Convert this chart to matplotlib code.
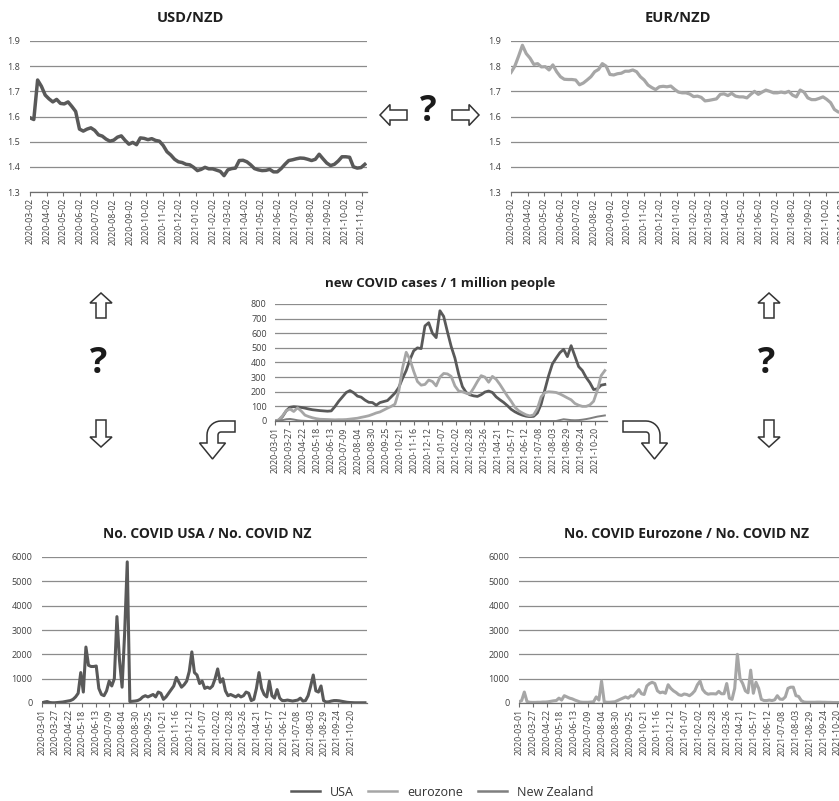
import numpy as np
import pandas as pd
import matplotlib
matplotlib.use("Agg")
import matplotlib.pyplot as plt
from matplotlib.lines import Line2D
from matplotlib.patches import Polygon

plt.rcParams["font.family"] = ["Open Sans", "DejaVu Sans"]

# ---- data ----
# exchange rates, weekly from 2020-03-02
fx_start = "2020-03-02"
usd_nzd = [1.595, 1.588, 1.745, 1.72, 1.685, 1.67, 1.658, 1.668, 1.652, 1.65,
           1.658, 1.64, 1.62, 1.55, 1.542, 1.55, 1.555, 1.545, 1.527, 1.522,
           1.51, 1.502, 1.506, 1.518, 1.523, 1.505, 1.49, 1.497, 1.488, 1.515,
           1.513, 1.508, 1.512, 1.505, 1.502, 1.485, 1.46, 1.447, 1.43, 1.42,
           1.417, 1.41, 1.408, 1.398, 1.385, 1.39, 1.398, 1.392, 1.392, 1.387,
           1.382, 1.365, 1.388, 1.393, 1.395, 1.425, 1.426, 1.42, 1.408, 1.393,
           1.388, 1.385, 1.386, 1.39, 1.38, 1.38, 1.393, 1.41, 1.425, 1.428,
           1.432, 1.435, 1.434, 1.43, 1.425, 1.43, 1.45, 1.432, 1.415, 1.405,
           1.41, 1.423, 1.44, 1.44, 1.438, 1.40, 1.395, 1.397, 1.41]
eur_nzd = [1.775, 1.80, 1.84, 1.883, 1.85, 1.832, 1.807, 1.81, 1.797, 1.798,
           1.785, 1.805, 1.778, 1.758, 1.748, 1.747, 1.747, 1.745, 1.726, 1.733,
           1.745, 1.758, 1.778, 1.787, 1.81, 1.80, 1.767, 1.765, 1.77, 1.772,
           1.78, 1.78, 1.785, 1.778, 1.758, 1.745, 1.725, 1.715, 1.707, 1.718,
           1.72, 1.718, 1.721, 1.708, 1.697, 1.694, 1.694, 1.689, 1.679, 1.681,
           1.676, 1.662, 1.664, 1.667, 1.67, 1.688, 1.69, 1.683, 1.692, 1.681,
           1.678, 1.678, 1.674, 1.688, 1.70, 1.688, 1.697, 1.705, 1.70, 1.694,
           1.694, 1.697, 1.694, 1.70, 1.685, 1.678, 1.705, 1.697, 1.674, 1.667,
           1.667, 1.672, 1.678, 1.668, 1.655, 1.628, 1.618, 1.615, 1.612]

# new cases per 1 million people, weekly from 2020-03-01
cases_start = "2020-03-01"
cases_usa = [0, 5, 30, 70, 94, 98, 96, 93, 88, 82,
             77, 74, 71, 69, 67, 69, 99, 135, 165, 195,
             208, 193, 170, 163, 143, 128, 126, 108, 126, 133,
             140, 165, 191, 228, 290, 345, 420, 480, 500, 495,
             650, 672, 600, 570, 754, 715, 610, 510, 430, 320,
             235, 195, 179, 172, 168, 180, 198, 205, 195, 165,
             145, 127, 105, 80, 63, 50, 40, 33, 30, 32,
             55, 115, 214, 310, 390, 430, 467, 490, 440, 515,
             444, 372, 345, 298, 262, 215, 220, 245, 250]
cases_eur = [0, 8, 35, 70, 82, 65, 90, 68, 40, 30,
             22, 16, 12, 11, 10, 9, 8, 9, 9, 10,
             13, 16, 19, 25, 30, 36, 45, 55, 62, 75,
             88, 100, 115, 200, 360, 470, 420, 340, 270, 245,
             250, 280, 270, 240, 300, 325, 322, 305, 240, 205,
             200, 190, 185, 225, 270, 310, 300, 265, 305, 285,
             250, 210, 170, 135, 95, 70, 55, 42, 35, 42,
             85, 165, 195, 200, 198, 195, 185, 172, 158, 145,
             120, 108, 100, 100, 110, 135, 210, 310, 345]
cases_nz = [0, 2, 6, 12, 14, 10, 5, 2, 1, 0,
            0, 0, 0, 0, 0, 0, 0, 0, 0, 0,
            0, 0, 0, 1, 1, 1, 0, 0, 0, 0,
            0, 0, 0, 0, 0, 0, 0, 0, 0, 0,
            0, 0, 0, 0, 0, 0, 0, 0, 0, 0,
            0, 0, 0, 0, 0, 0, 0, 0, 0, 0,
            0, 0, 0, 0, 0, 0, 0, 0, 0, 0,
            0, 0, 0, 0, 0, 0, 6, 12, 9, 6,
            5, 6, 9, 13, 18, 24, 30, 34, 38]

# case-count ratios, every 5 days from 2020-03-01
ratio_start = "2020-03-01"
ratio_usa_nz = [10, 40, 60, 20, 10, 10, 20, 30, 40, 60,
                80, 100, 150, 250, 400, 1250, 450, 2300, 1550, 1500,
                1500, 1520, 600, 350, 300, 500, 900, 700, 1000, 3550,
                1750, 650, 2900, 5800, 60, 70, 80, 100, 150, 250,
                300, 250, 300, 350, 250, 450, 400, 150, 250, 400,
                550, 700, 1050, 850, 650, 750, 900, 1300, 2100, 1250,
                1150, 800, 900, 600, 650, 600, 700, 1000, 1400, 850,
                1000, 500, 300, 350, 300, 250, 330, 250, 300, 450,
                400, 100, 150, 600, 1250, 600, 350, 250, 900, 300,
                200, 550, 200, 100, 100, 120, 100, 80, 100, 120,
                200, 80, 100, 300, 700, 1150, 500, 450, 700, 100,
                40, 50, 80, 100, 100, 90, 70, 50, 30, 20,
                15, 10, 10, 10, 10, 10]
ratio_eur_nz = [50, 100, 450, 60, 30, 25, 25, 30, 30, 40,
                40, 50, 70, 90, 100, 200, 120, 300, 250, 200,
                170, 120, 80, 40, 30, 30, 30, 40, 50, 250,
                120, 900, 50, 30, 30, 40, 50, 100, 150, 200,
                250, 200, 300, 280, 420, 550, 380, 350, 700, 800,
                850, 800, 500, 420, 450, 400, 750, 600, 500, 430,
                340, 310, 370, 350, 300, 380, 500, 750, 900, 550,
                420, 360, 380, 380, 370, 480, 380, 380, 800, 200,
                150, 600, 2000, 1000, 800, 500, 420, 1350, 400, 850,
                600, 150, 100, 100, 120, 100, 130, 300, 160, 150,
                250, 600, 650, 650, 300, 270, 100, 40, 30, 30,
                30, 30, 35, 35, 30, 30, 25, 25, 20, 20,
                20, 20, 20, 20, 20, 20]

series_names = ["USA", "eurozone", "New Zealand"]

# ---- styling ----
C_USA = "#595959"
C_EUR = "#a6a6a6"
C_NZ = "#7f7f7f"
GRID = "#8c8c8c"
TXT = "#404040"
TITLE = "#1f1f1f"

W, H = 839, 801
fig = plt.figure(figsize=(W / 100, H / 100), dpi=100)


def px_box(left, top, right, bottom):
    return [left / W, 1 - bottom / H, (right - left) / W, (bottom - top) / H]


def style(ax, ymax, ystep, ymin, ticks, xlim, fmt, ypad):
    yt = np.arange(ymin, ymax + ystep / 2, ystep)
    ax.set_ylim(ymin, ymax)
    ax.set_yticks(yt)
    ax.set_yticklabels([fmt.format(v) for v in yt])
    ax.grid(axis="y", color=GRID, lw=0.9)
    ax.set_axisbelow(True)
    for s in ["left", "right", "top"]:
        ax.spines[s].set_visible(False)
    ax.spines["bottom"].set_color("#6e6e6e")
    ax.spines["bottom"].set_linewidth(0.9)
    ax.set_xticks(ticks)
    ax.set_xticklabels([d.strftime("%Y-%m-%d") for d in ticks], rotation=90)
    ax.tick_params(axis="x", length=3, width=0.8, color="#6e6e6e", pad=1.5,
                   labelsize=6.3, labelcolor=TXT)
    ax.tick_params(axis="y", length=0, pad=ypad, labelsize=6.5, labelcolor=TXT)
    ax.set_xlim(pd.Timestamp(xlim[0]), pd.Timestamp(xlim[1]))
    ax.patch.set_alpha(0)


fx_dates = pd.date_range(fx_start, periods=len(usd_nzd), freq="7D")
fx_ticks = pd.date_range("2020-03-01", "2021-11-01", freq="MS") + pd.Timedelta(days=1)
case_dates = pd.date_range(cases_start, periods=len(cases_usa), freq="7D")
case_ticks = pd.date_range("2020-03-01", "2021-10-20", freq="26D")
ratio_dates = pd.date_range(ratio_start, periods=len(ratio_usa_nz), freq="5D")

# USD/NZD
ax1 = fig.add_axes(px_box(30, 41, 367, 192))
ax1.plot(fx_dates, usd_nzd, color=C_USA, lw=2.5, solid_joinstyle="round")
style(ax1, 1.9, 0.1, 1.3, fx_ticks, ("2020-03-02", "2021-11-12"), "{:.1f}", 7)
fig.text(190 / W, 1 - 18 / H, "USD/NZD", ha="center", va="center",
         fontsize=10.5, fontweight="bold", color=TITLE)

# EUR/NZD (runs past the right edge, as in the source)
ax2 = fig.add_axes(px_box(511, 41, 848, 192))
ax2.plot(fx_dates, eur_nzd, color=C_EUR, lw=2.3, solid_joinstyle="round")
style(ax2, 1.9, 0.1, 1.3, fx_ticks, ("2020-03-02", "2021-11-12"), "{:.1f}", 7)
fig.text(678 / W, 1 - 18 / H, "EUR/NZD", ha="center", va="center",
         fontsize=10.5, fontweight="bold", color=TITLE)

# new cases per million
ax3 = fig.add_axes(px_box(275, 304, 607, 421))
ax3.plot(case_dates, cases_usa, color=C_USA, lw=2.0, label=series_names[0])
ax3.plot(case_dates, cases_eur, color=C_EUR, lw=2.0, label=series_names[1])
ax3.plot(case_dates, cases_nz, color=C_NZ, lw=1.4, label=series_names[2])
style(ax3, 800, 100, 0, case_ticks, ("2020-03-01", "2021-11-11"), "{:.0f}", 6)
fig.text(440 / W, 1 - 283 / H, "new COVID cases / 1 million people", ha="center",
         va="center", fontsize=9.5, fontweight="bold", color=TITLE)

# ratios
ax4 = fig.add_axes(px_box(42, 557, 367, 703))
ax4.plot(ratio_dates, ratio_usa_nz, color=C_USA, lw=2.2, solid_joinstyle="round")
style(ax4, 6000, 1000, 0, case_ticks, ("2020-03-01", "2021-11-20"), "{:.0f}", 7)
fig.text(207 / W, 1 - 534 / H, "No. COVID USA / No. COVID NZ", ha="center",
         va="center", fontsize=10, fontweight="bold", color=TITLE)

ax5 = fig.add_axes(px_box(519, 557, 854, 703))
ax5.plot(ratio_dates, ratio_eur_nz, color=C_EUR, lw=2.2, solid_joinstyle="round")
style(ax5, 6000, 1000, 0, case_ticks, ("2020-03-01", "2021-11-20"), "{:.0f}", 7)
fig.text(687 / W, 1 - 534 / H, "No. COVID Eurozone / No. COVID NZ", ha="center",
         va="center", fontsize=10, fontweight="bold", color=TITLE)

# ---- arrows and question marks, drawn in pixel space ----
ov = fig.add_axes([0, 0, 1, 1], zorder=10)
ov.set_xlim(0, W)
ov.set_ylim(H, 0)
ov.axis("off")
ov.patch.set_alpha(0)


def block_arrow(tip, direction, length=26, shaft=10, head_w=21, head_len=10):
    u = np.array(direction, float)
    v = np.array([-u[1], u[0]])
    local = [(0, 0), (-head_len, head_w / 2), (-head_len, shaft / 2),
             (-length, shaft / 2), (-length, -shaft / 2),
             (-head_len, -shaft / 2), (-head_len, -head_w / 2)]
    pts = [np.array(tip) + a * u + b * v for a, b in local]
    ov.add_patch(Polygon(pts, closed=True, facecolor="white",
                         edgecolor="#333333", lw=1.1, joinstyle="miter"))


def bent_arrow(cx, cy, bar_len, d, R=14, r=3, y_head=443, y_tip=459, head_half=13):
    sc = (R + r) / 2
    pts = [(-bar_len, cy - R)]
    for a in np.linspace(0, np.pi / 2, 10):
        pts.append((R * np.sin(a), cy - R * np.cos(a)))
    pts += [(R, y_head), (sc + head_half, y_head), (sc, y_tip),
            (sc - head_half, y_head), (r, y_head)]
    for a in np.linspace(np.pi / 2, 0, 6):
        pts.append((r * np.sin(a), cy - r * np.cos(a)))
    pts.append((-bar_len, cy - r))
    pts = [(cx + d * x, y) for x, y in pts]
    ov.add_patch(Polygon(pts, closed=True, facecolor="white",
                         edgecolor="#333333", lw=1.1, joinstyle="miter"))


block_arrow((380, 115), (-1, 0), length=27)
block_arrow((479, 115), (1, 0), length=27)
ov.text(428, 112, "?", ha="center", va="center", fontsize=25,
        fontweight="bold", color="#1a1a1a")

for x in (101, 769):
    block_arrow((x, 293), (0, -1), length=25, head_w=22)
    block_arrow((x, 447), (0, 1), length=27, head_w=22)
    ov.text(x - 2, 364, "?", ha="center", va="center", fontsize=26,
            fontweight="bold", color="#1a1a1a")

bent_arrow(221, 435, 14, -1)
bent_arrow(646, 435, 23, 1)

# legend
handles = [Line2D([], [], color=c, lw=1.8) for c in (C_USA, C_EUR, C_NZ)]
fig.legend(handles, series_names, loc="center", bbox_to_anchor=(442 / W, 1 - 792 / H),
           ncol=3, frameon=False, fontsize=9, handlelength=2.3, handletextpad=0.8,
           columnspacing=1.2, labelcolor="#333333")

fig.savefig("out.png", dpi=100)
